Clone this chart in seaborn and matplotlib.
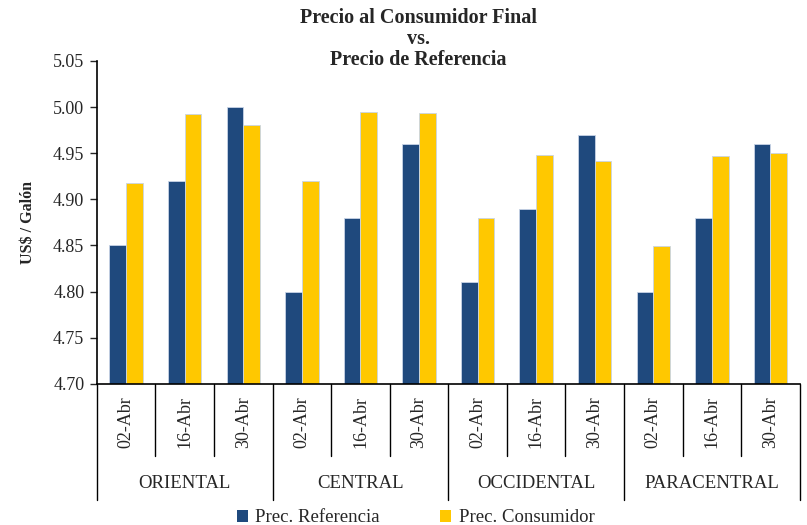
import matplotlib
matplotlib.use('Agg')
import pandas as pd
import seaborn as sns
import matplotlib.pyplot as plt
from matplotlib.patches import Patch

# data
regions = ['ORIENTAL', 'CENTRAL', 'OCCIDENTAL', 'PARACENTRAL']
dates = ['02-Abr', '16-Abr', '30-Abr']
prec_referencia = [4.85, 4.92, 5.00, 4.80, 4.88, 4.96, 4.81, 4.89, 4.97, 4.80, 4.88, 4.96]
prec_consumidor = [4.918, 4.992, 4.98, 4.92, 4.995, 4.993, 4.88, 4.948, 4.942, 4.849, 4.947, 4.95]
series_names = ['Prec. Referencia', 'Prec. Consumidor']
colors = ['#1F497D', '#FFC800']

cats = [f'{r} {d}' for r in regions for d in dates]
df = pd.DataFrame({
    'cat': cats * 2,
    'serie': [series_names[0]] * len(cats) + [series_names[1]] * len(cats),
    'valor': prec_referencia + prec_consumidor,
})

sns.set_style('white')
plt.rcParams['font.family'] = ['Liberation Serif', 'DejaVu Serif']

fig = plt.figure(figsize=(8.07, 5.25), dpi=100)
ax = fig.add_axes([0.12, 0.269, 0.871, 0.615])

sns.barplot(data=df, x='cat', y='valor', hue='serie', palette=colors, saturation=1,
            width=0.57, ax=ax, legend=False, edgecolor='#c8d4e6', linewidth=0.6)

ax.set_ylim(4.70, 5.05)
ax.set_yticks([4.70, 4.75, 4.80, 4.85, 4.90, 4.95, 5.00, 5.05])
ax.set_yticklabels([f'{v:.2f}' for v in ax.get_yticks()], fontsize=13)
ax.set_xlim(-0.5, len(cats) - 0.5)
ax.set_xticks(range(len(cats)))
ax.set_xticklabels([d for r in regions for d in dates], rotation=90, fontsize=13)
ax.tick_params(axis='x', length=0, pad=9)
ax.tick_params(axis='y', direction='out', length=5, width=1, left=True, pad=4)
ax.set_xlabel('')
ax.set_ylabel('US$ / Galón', fontsize=11.5, fontweight='bold', labelpad=12)

for s in ['top', 'right']:
    ax.spines[s].set_visible(False)
for s in ['left', 'bottom']:
    ax.spines[s].set_color('black')
    ax.spines[s].set_linewidth(1.2)

# separators below the axis (in axes fraction for y)
tr = ax.get_xaxis_transform()
for i in range(len(cats) + 1):
    x = i - 0.5
    depth = -0.36 if i % 3 == 0 else -0.225
    ax.plot([x, x], [0, depth], color='black', lw=1, transform=tr, clip_on=False)
for k, r in enumerate(regions):
    ax.text(k * 3 + 1, -0.31, r, transform=tr, ha='center', va='center', fontsize=13.5)

handles = [Patch(facecolor=c, edgecolor='none') for c in colors]
fig.legend(handles, series_names, loc='lower center', bbox_to_anchor=(0.515, -0.035),
           ncol=2, frameon=False, fontsize=13.5, handlelength=0.6, handleheight=0.6,
           columnspacing=3.2, handletextpad=0.4)

fig.text(0.518, 0.926, 'Precio al Consumidor Final\nvs.\nPrecio de Referencia',
         ha='center', va='center', fontsize=14.5, fontweight='bold', linespacing=1.05)

fig.savefig('out.png', dpi=100)
